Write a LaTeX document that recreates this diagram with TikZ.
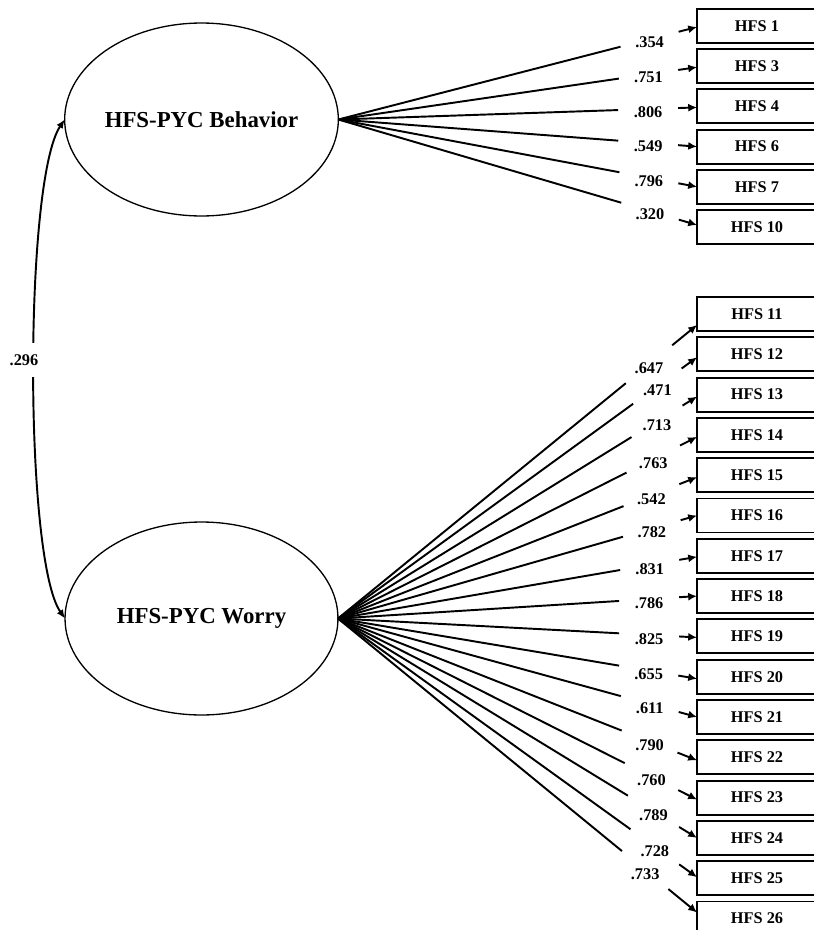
\documentclass[tikz,border=0pt]{standalone}
\usepackage{fontspec}
\setmainfont{Liberation Serif}
\usetikzlibrary{arrows.meta, calc, shapes.geometric}

\begin{document}
\begin{tikzpicture}[x = 0.02cm, y = -0.02cm,
        latent/.style = {draw, ellipse, line width = 0.75pt, minimum width = 5.46cm, minimum height = 3.86cm,
            inner sep = 0, outer sep = 0, font = \bfseries\fontsize{13}{16}\selectfont},
        indicator/.style = {draw, rectangle, line width = 1.1pt, minimum width = 2.4cm, minimum height = 0.68cm,
            inner sep = 0, outer sep = 0, font = \bfseries\fontsize{9.3}{11}\selectfont},
        loading/.style = {line width = 1.1pt},
        tip/.style = {-{Latex[length = 5pt, width = 4.6pt]}, line width = 1.1pt},
        cov/.style = {{Latex[length = 5pt, width = 4.2pt]}-{Latex[length = 5pt, width = 4.2pt]}, line width = 1.1pt},
        coef/.style = {inner sep = 0, font = \bfseries\fontsize{9.3}{11}\selectfont}]
    \useasboundingbox (0,0) rectangle (814,930);
    \clip (0,0) rectangle (814,930);

    % latent factors
    \node[latent] (beh) at (201.5,119.5) {HFS-PYC Behavior};
    \node[latent] (wor) at (201.5,618.5) {HFS-PYC Worry};

    % correlation
    \draw[cov] (beh.west) .. controls (24,180) and (24,560) .. (wor.west);
    \node[coef, fill = white, inner xsep = 0.08cm, minimum height = 0.68cm] (r) at (24,360) {.296};

    % items
    \foreach \n [count = \k from 0] in {1, 3, 4, 6, 7, 10}
        \node[indicator] (hfs\n) at (757, {26 + 40.2*\k}) {HFS \n};
    \foreach \n [count = \k from 0] in {11, ..., 26}
        \node[indicator] (hfs\n) at (757, {314 + 40.3*\k}) {HFS \n};

    % loadings, broken by their values (\a = arrow length, \d = where the tip meets the box)
    \foreach \n/\c/\a/\d [evaluate = \a as \e using (\a+60)*0.02, evaluate = \a as \s using \a*0.02,
            evaluate = \a as \m using (\a+30)*0.02]
            in {1/.354/19/1, 3/.751/19/1, 4/.806/19/1, 6/.549/19/0, 7/.796/19/0, 10/.320/19/-2}
    {
        \coordinate (t\n) at ($(hfs\n.west) + (0,\d)$);
        \draw[loading] (beh.east) -- ($(t\n)!\e cm!(beh.east)$);
        \draw[tip] ($(t\n)!\s cm!(beh.east)$) -- (t\n);
        \node[coef] (c\n) at ($(t\n)!\m cm!(beh.east) + (0,3)$) {\c};
    }
    \foreach \n/\c/\a/\d [evaluate = \a as \e using (\a+60)*0.02, evaluate = \a as \s using \a*0.02,
            evaluate = \a as \m using (\a+30)*0.02]
            in {11/.647/32/11, 12/.471/19/3, 13/.713/17/2, 14/.763/19/2, 15/.542/19/2, 16/.782/17/0,
                17/.831/18/1, 18/.786/18/0, 19/.825/18/1, 20/.655/19/2, 21/.611/19/0, 22/.790/21/3,
                23/.760/21/2, 24/.789/21/0, 25/.728/22/-1, 26/.733/37/-6}
    {
        \coordinate (t\n) at ($(hfs\n.west) + (0,\d)$);
        \draw[loading] (wor.east) -- ($(t\n)!\e cm!(wor.east)$);
        \draw[tip] ($(t\n)!\s cm!(wor.east)$) -- (t\n);
        \node[coef] (c\n) at ($(t\n)!\m cm!(wor.east) + (0,4)$) {\c};
    }
\end{tikzpicture}
\end{document}
